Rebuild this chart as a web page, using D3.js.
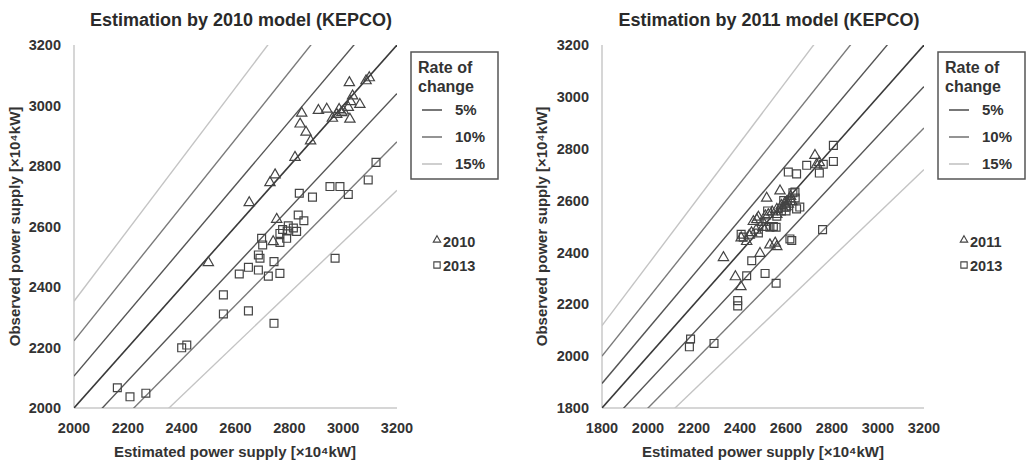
<!DOCTYPE html>
<html>
<head>
<meta charset="utf-8">
<script src="https://cdn.jsdelivr.net/npm/d3@7"></script>
<style>
  html, body { margin: 0; padding: 0; background: #fff; }
  svg { display: block; }
  text { font-family: "Liberation Sans", Arial, sans-serif; font-weight: bold; fill: #333; }
</style>
</head>
<body>
<svg id="chart" width="1029" height="467"></svg>
<script>
// ---------------- DATA ----------------
const rates = [0.05, 0.10, 0.15];
const rateLabels = ["5%", "10%", "15%"];

const leftTitle = "Estimation by 2010 model (KEPCO)";
const leftTicks = [2000, 2200, 2400, 2600, 2800, 3000, 3200];
const leftSeriesNames = ["2010", "2013"];
// 2010 series (triangles) [estimated, observed]
const left2010Est = [2499, 2651, 2728, 2747, 2821, 2840, 2846, 2862, 2879, 2908, 2939, 2960, 2976, 2995, 3001, 3019, 3023, 3025, 3028, 3035, 3062, 3085, 3097, 2753, 2740, 2985];
const left2010Obs = [2484, 2682, 2748, 2774, 2832, 2942, 2978, 2915, 2886, 2987, 2991, 2961, 2974, 2980, 2985, 2997, 3079, 2958, 3016, 3035, 3007, 3085, 3095, 2627, 2553, 2990];
// 2013 series (squares)
const left2013Est = [2161, 2208, 2267, 2400, 2419, 2555, 2555, 2614, 2648, 2648, 2685, 2691, 2685, 2697, 2701, 2722, 2743, 2743, 2765, 2765, 2765, 2775, 2790, 2792, 2796, 2827, 2833, 2837, 2854, 2886, 2951, 2988, 2970, 3019, 3093, 3122, 2815];
const left2013Obs = [2067, 2037, 2049, 2199, 2208, 2374, 2311, 2443, 2465, 2321, 2506, 2495, 2456, 2561, 2539, 2436, 2484, 2280, 2577, 2547, 2445, 2590, 2561, 2585, 2602, 2584, 2638, 2710, 2619, 2697, 2732, 2732, 2495, 2706, 2754, 2812, 2595];

const rightTitle = "Estimation by 2011 model (KEPCO)";
const rightTicks = [1800, 2000, 2200, 2400, 2600, 2800, 3000, 3200];
const rightSeriesNames = ["2011", "2013"];
const right2011Est = [2328, 2380, 2404, 2405, 2429, 2440, 2458, 2473, 2480, 2487, 2500, 2510, 2516, 2523, 2530, 2540, 2553, 2560, 2560, 2574, 2580, 2588, 2595, 2603, 2610, 2617, 2620, 2625, 2726, 2733, 2745, 2500, 2470, 2450, 2560, 2600];
const right2011Obs = [2384, 2310, 2272, 2460, 2446, 2470, 2523, 2530, 2540, 2400, 2520, 2545, 2613, 2550, 2433, 2560, 2440, 2426, 2570, 2641, 2585, 2575, 2595, 2600, 2590, 2610, 2620, 2600, 2778, 2742, 2750, 2500, 2490, 2480, 2550, 2580];
const right2013Est = [2180, 2185, 2287, 2390, 2390, 2405, 2414, 2429, 2451, 2480, 2509, 2516, 2530, 2545, 2557, 2557, 2520, 2560, 2580, 2601, 2610, 2617, 2625, 2620, 2630, 2639, 2646, 2646, 2660, 2640, 2690, 2745, 2762, 2759, 2806, 2806, 2600, 2590];
const right2013Obs = [2036, 2066, 2049, 2194, 2214, 2470, 2459, 2310, 2368, 2475, 2319, 2500, 2497, 2500, 2281, 2497, 2560, 2540, 2560, 2575, 2710, 2452, 2446, 2600, 2630, 2633, 2703, 2568, 2575, 2610, 2736, 2706, 2740, 2488, 2751, 2813, 2560, 2600];

const yAxisTitle = "Observed power supply [×10⁴kW]";
const xAxisTitle = "Estimated power supply [×10⁴kW]";
const legendTitle = ["Rate of", "change"];

// ---------------- DRAW ----------------
const svg = d3.select("#chart");
const lineColors = ["#555", "#7a7a7a", "#c4c4c4"];
const centerColor = "#3a3a3a";
const markColor = "#444";

function zip(a, b) { return a.map((v, i) => [v, b[i]]); }

function panel(cfg) {
  const g = svg.append("g");
  const x = d3.scaleLinear().domain(cfg.domain).range([cfg.x0, cfg.x1]);
  const y = d3.scaleLinear().domain(cfg.domain).range([cfg.y1, cfg.y0]);

  const clipId = "clip" + cfg.id;
  svg.append("defs").append("clipPath").attr("id", clipId)
    .append("rect").attr("x", cfg.x0).attr("y", cfg.y0)
    .attr("width", cfg.x1 - cfg.x0).attr("height", cfg.y1 - cfg.y0);

  // title
  g.append("text").attr("x", cfg.titleX).attr("y", 20).attr("dy", "0.35em")
    .attr("text-anchor", "middle").style("font-size", "18px").style("fill", "#2a2a2a")
    .text(cfg.title);

  // axes lines
  g.append("line").attr("x1", cfg.x0).attr("x2", cfg.x0).attr("y1", cfg.y0).attr("y2", cfg.y1)
    .attr("stroke", "#c8c8c8").attr("stroke-width", 1.5);
  g.append("line").attr("x1", cfg.x0).attr("x2", cfg.x1).attr("y1", cfg.y1).attr("y2", cfg.y1)
    .attr("stroke", "#c8c8c8").attr("stroke-width", 1.5);

  // tick labels
  g.selectAll(".yt").data(cfg.ticks).enter().append("text")
    .attr("x", cfg.x0 - 13).attr("y", d => y(d)).attr("dy", "0.35em")
    .attr("text-anchor", "end").style("font-size", "14.5px").text(d => d);
  g.selectAll(".xt").data(cfg.ticks).enter().append("text")
    .attr("x", d => x(d)).attr("y", cfg.y1 + 20).attr("dy", "0.35em")
    .attr("text-anchor", "middle").style("font-size", "14.5px").text(d => d);

  // axis titles
  g.append("text").attr("x", cfg.xTitleX).attr("y", cfg.y1 + 44).attr("dy", "0.35em")
    .attr("text-anchor", "middle").style("font-size", "15px").text(xAxisTitle);
  g.append("text").attr("transform", `translate(${cfg.yTitleX},${(cfg.y0 + cfg.y1) / 2}) rotate(-90)`)
    .attr("dy", "0.35em").attr("text-anchor", "middle").style("font-size", "15px").text(yAxisTitle);

  // reference lines
  const lg = g.append("g").attr("clip-path", `url(#${clipId})`);
  const [d0, d1] = cfg.domain;
  const refLines = [{ f: v => v, c: centerColor, w: 1.6 }];
  rates.forEach((r, i) => {
    refLines.push({ f: v => v / (1 - r), c: lineColors[i], w: 1.4 });
    refLines.push({ f: v => v * (1 - r), c: lineColors[i], w: 1.4 });
  });
  refLines.reverse().forEach(L => {
    lg.append("line")
      .attr("x1", x(d0)).attr("y1", y(L.f(d0)))
      .attr("x2", x(d1)).attr("y2", y(L.f(d1)))
      .attr("stroke", L.c).attr("stroke-width", L.w);
  });

  // points
  const tri = d3.symbol().type(d3.symbolTriangle).size(46);
  const sq = d3.symbol().type(d3.symbolSquare).size(62);
  g.selectAll(".sq").data(zip(cfg.sEst, cfg.sObs)).enter().append("path")
    .attr("d", sq).attr("transform", d => `translate(${x(d[0])},${y(d[1])})`)
    .attr("fill", "none").attr("stroke", markColor).attr("stroke-width", 1.2);
  g.selectAll(".tr").data(zip(cfg.tEst, cfg.tObs)).enter().append("path")
    .attr("d", tri).attr("transform", d => `translate(${x(d[0])},${y(d[1]) + 1})`)
    .attr("fill", "none").attr("stroke", markColor).attr("stroke-width", 1.2);

  // legend box
  const lx = cfg.legX, ly = 52;
  g.append("rect").attr("x", lx).attr("y", ly).attr("width", 87).attr("height", 127)
    .attr("fill", "#fff").attr("stroke", "#555").attr("stroke-width", 1.5);
  legendTitle.forEach((t, i) => {
    g.append("text").attr("x", lx + 7).attr("y", ly + 15 + i * 19).attr("dy", "0.35em")
      .style("font-size", "16px").text(t);
  });
  rates.forEach((r, i) => {
    const yy = ly + 58 + i * 27;
    g.append("line").attr("x1", lx + 11).attr("x2", lx + 31).attr("y1", yy).attr("y2", yy)
      .attr("stroke", lineColors[i]).attr("stroke-width", 1.6);
    g.append("text").attr("x", lx + 44).attr("y", yy).attr("dy", "0.35em")
      .style("font-size", "15px").text(rateLabels[i]);
  });

  // series legend
  const sx = cfg.legX + 26;
  const tri2 = d3.symbol().type(d3.symbolTriangle).size(24);
  const sq2 = d3.symbol().type(d3.symbolSquare).size(40);
  g.append("path").attr("d", tri2).attr("transform", `translate(${sx},${240})`)
    .attr("fill", "none").attr("stroke", markColor).attr("stroke-width", 1.1);
  g.append("text").attr("x", sx + 6).attr("y", 242).attr("dy", "0.35em")
    .style("font-size", "14.5px").text(cfg.names[0]);
  g.append("path").attr("d", sq2).attr("transform", `translate(${sx},${265})`)
    .attr("fill", "none").attr("stroke", markColor).attr("stroke-width", 1.1);
  g.append("text").attr("x", sx + 6).attr("y", 266).attr("dy", "0.35em")
    .style("font-size", "14.5px").text(cfg.names[1]);
}

panel({
  id: "L", domain: [2000, 3200], ticks: leftTicks, title: leftTitle, names: leftSeriesNames,
  x0: 74, x1: 397, y0: 45, y1: 408, titleX: 241, xTitleX: 235, yTitleX: 15, legX: 411,
  tEst: left2010Est, tObs: left2010Obs, sEst: left2013Est, sObs: left2013Obs
});
panel({
  id: "R", domain: [1800, 3200], ticks: rightTicks, title: rightTitle, names: rightSeriesNames,
  x0: 602, x1: 924, y0: 45, y1: 408, titleX: 769, xTitleX: 763, yTitleX: 542, legX: 938,
  tEst: right2011Est, tObs: right2011Obs, sEst: right2013Est, sObs: right2013Obs
});
</script>
</body>
</html>
